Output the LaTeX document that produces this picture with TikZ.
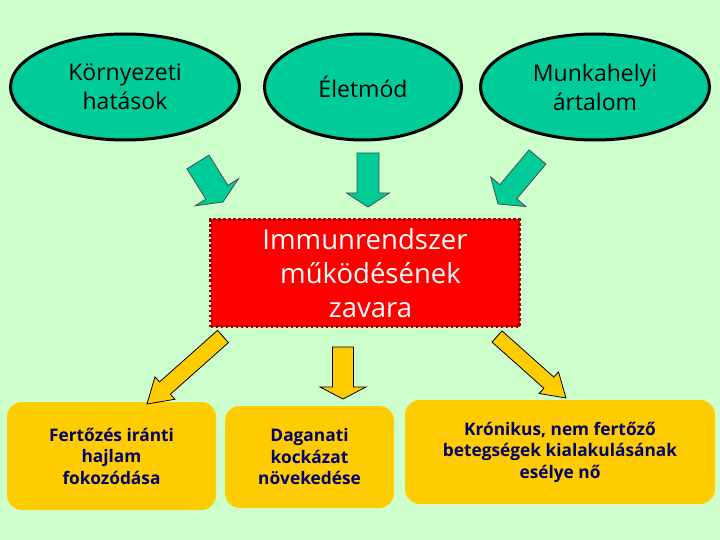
\documentclass[tikz,border=0pt]{standalone}
\usepackage{fontspec}
\setmainfont{Open Sans}
\usetikzlibrary{shapes.geometric,calc}
\definecolor{bg}{HTML}{CCFFCC}
\definecolor{teal}{HTML}{00CC99}
\definecolor{gold}{HTML}{FFCC00}
\definecolor{navy}{HTML}{000066}
\definecolor{redfill}{HTML}{FF0000}
\definecolor{redline}{HTML}{990000}
\newcommand\blockarrow[6]{%
  \coordinate (ah) at ($(#3)!#6!(#2)$);
  \draw[#1] ($(#2)!#4!90:(#3)$) -- ($(ah)!#4!90:(#3)$) -- ($(ah)!#5!90:(#3)$) -- (#3)
    -- ($(ah)!#5!-90:(#3)$) -- ($(ah)!#4!-90:(#3)$) -- ($(#2)!#4!-90:(#3)$) -- cycle;
}
\tikzset{
  oval/.style={ellipse, draw=black, line width=3pt, fill=teal, minimum width=229pt, minimum height=106pt, inner sep=0pt, align=center, font=\fontsize{23}{29}\selectfont},
  goldbox/.style={rectangle, rounded corners=15pt, fill=gold, inner sep=0pt, align=center, text=navy, font=\bfseries\fontsize{17.3}{21.5}\selectfont},
  redbox/.style={rectangle, fill=redfill, draw=redline, line width=2.5pt, dash pattern=on 2.5pt off 2.5pt, minimum width=309pt, minimum height=107pt, inner sep=0pt, align=center, text=white, font=\fontsize{27.5}{34}\selectfont},
  greenarrow/.style={fill=teal, draw=black!70, line width=0.8pt, line join=miter},
  goldarrow/.style={fill=gold, draw=black, line width=0.8pt, line join=miter},
}
\begin{document}
\begin{tikzpicture}[x=1pt,y=-1pt]
\fill[bg] (0,0) rectangle (720,540);
\useasboundingbox (0,0) rectangle (720,540);
% top ellipses
\node[oval] (env) at (125,87) {Környezeti\\hatások};
\node[oval, minimum width=197pt] (life) at (363,87) {Életmód};
\node[oval] (work) at (595,87) {Munkahelyi\\ártalom};
% red box
\node[redbox] (immun) at (365,273) {Immunrendszer\\\hspace*{0.4em}működésének\\\hspace*{0.4em}zavara};
% bottom boxes
\node[goldbox, minimum width=209pt, minimum height=108pt] (inf) at (111.5,456) {Fertőzés iránti\\hajlam\\fokozódása};
\node[goldbox, minimum width=169pt, minimum height=102pt] (tum) at (309.5,457) {Daganati\\kockázat\\növekedése};
\node[goldbox, minimum width=310pt, minimum height=104pt] (chron) at (560,452) {Krónikus, nem fertőző\\betegségek kialakulásának\\esélye nő};
% green arrows
\coordinate (g1s) at (198,162); \coordinate (g1t) at (223,202);
\coordinate (g2s) at (368,153); \coordinate (g2t) at (368,207);
\coordinate (g3s) at (537.5,157); \coordinate (g3t) at (498,204);
\blockarrow{greenarrow}{g1s}{g1t}{13pt}{25.5pt}{11.5pt}
\blockarrow{greenarrow}{g2s}{g2t}{11pt}{21.5pt}{14pt}
\blockarrow{greenarrow}{g3s}{g3t}{11pt}{23pt}{16pt}
% gold arrows
\coordinate (y1s) at (223,336.5); \coordinate (y1t) at (147,404);
\coordinate (y2s) at (343,347); \coordinate (y2t) at (343,399);
\coordinate (y3s) at (497,336.5); \coordinate (y3t) at (566,398);
\blockarrow{goldarrow}{y1s}{y1t}{8.2pt}{15pt}{24pt}
\blockarrow{goldarrow}{y2s}{y2t}{10.5pt}{23pt}{12pt}
\blockarrow{goldarrow}{y3s}{y3t}{7.5pt}{14.5pt}{23pt}
\end{tikzpicture}
\end{document}
